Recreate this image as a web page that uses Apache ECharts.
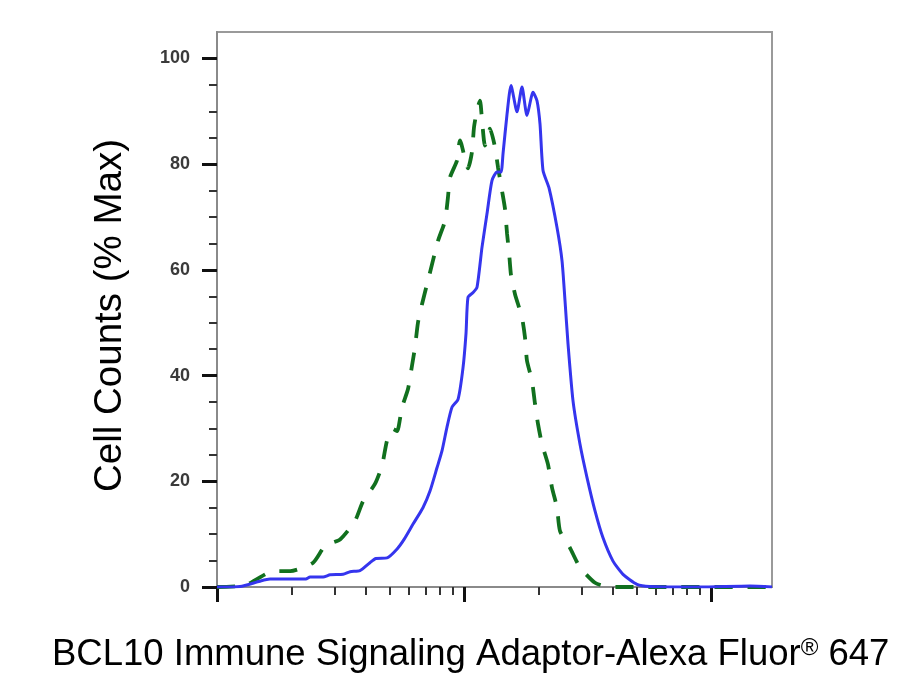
<!DOCTYPE html>
<html>
<head>
<meta charset="utf-8">
<script src="https://cdn.jsdelivr.net/npm/echarts@6/dist/echarts.min.js"></script>
<style>
  html, body { margin: 0; padding: 0; background: #fff; }
  #chart { width: 910px; height: 687px; }
</style>
</head>
<body>
<div id="chart"></div>
<script>
// Blue (BCL10 stained) histogram: fluorescence intensity and % of max
const bcl10Intensity = [100,124,149,164,229,238,269,287,324,346,379,416,440,488,536,572,622,682,729,778,815,853,894,946,991,1019,1038,1088,1129,1183,1239,1298,1360,1412,1439,1494,1550,1639,1717,1799,1903,1975,2031,2089,2209,2380,2494,2564,2637,2763,2949,3148,3392,3654,4011,4403,5015,5662,9028,14390,17660];
const bcl10Percent   = [0,0.1,1.1,1.5,1.5,1.9,1.9,2.3,2.4,2.9,3.1,4.6,5.4,5.5,7.2,9.0,11.9,15.0,18.2,22.6,25.8,30.2,34,35.5,41.5,48,54.8,55.7,56.7,64.3,70.6,76.9,78.5,78.5,82,89.5,94.9,89.9,94.6,89.2,93.6,92,87.6,78.8,75.5,68,61.7,54.2,46,35.2,27,20.7,14.4,9.3,4.9,2.4,0.5,0.1,0,0.2,0];

// Green dashed (control) histogram
const controlIntensity = [100,130,145,169,198,245,274,315,362,390,436,466,488,516,536,561,593,616,633,651,676,715,785,838,861,878,937,963,1038,1077,1098,1129,1161,1183,1216,1274,1335,1373,1425,1466,1494,1522,1550,1609,1717,1766,1799,1885,1939,1994,2070,2188,2271,2380,2447,2686,2949,3392,3900,5160,17660];
const controlPercent   = [0,0.3,1.5,3.0,3.0,4.6,7.8,9.0,12.5,16.2,19.5,23.0,27.7,29.9,29.5,34,37.4,41.9,45.3,50,53.5,58,65.5,69.3,73.7,77.5,80.7,84.5,79.2,82.3,87,90.2,92,88.3,83.5,86.7,83.2,79.4,75,71.5,66.8,63.3,59,55.4,51,47.2,42.8,39,34.6,30.8,27,23.2,18.8,15,10.6,7.4,3.7,0.8,0,0,0];

// Axis ticks
const xMajorTicks = [100, 1000, 10000];
const xMinorTicks = [200,300,400,500,600,700,800,900,2000,3000,4000,5000,6000,7000,8000,9000];
const yMajorTicks = [0, 20, 40, 60, 80, 100];
const yMinorTicks = [5,10,15,25,30,35,45,50,55,65,70,75,85,90,95];

const xTitle = 'BCL10 Immune Signaling Adaptor-Alexa Fluor{r|®} 647';
const yTitle = 'Cell Counts (% Max)';

const FONT = '"Liberation Sans", Arial, Helvetica, sans-serif';

const zip = (xs, ys) => xs.map((x, i) => [x, ys[i]]);

const chart = echarts.init(document.getElementById('chart'), null, { renderer: 'canvas' });
chart.setOption({
  animation: false,
  backgroundColor: '#ffffff',
  title: [{
    text: xTitle,
    left: 52,
    top: 636,
    padding: 0,
    textStyle: {
      fontFamily: FONT, fontSize: 36.5, fontWeight: 'normal', color: '#000',
      rich: { r: { fontFamily: FONT, fontSize: 24, verticalAlign: 'top', color: '#000' } }
    }
  }],
  grid: { left: 217, right: 138, top: 32, bottom: 100, show: true, borderColor: '#9a9a9a', borderWidth: 2, containLabel: false },
  xAxis: [{
    type: 'log', logBase: 10, min: 100, max: 17660, position: 'bottom',
    axisLine: { show: true, lineStyle: { color: '#8a8a8a', width: 2 } },
    axisTick: { show: true, inside: false, length: 15, customValues: xMajorTicks, lineStyle: { color: '#111', width: 3 } },
    axisLabel: { show: false },
    splitLine: { show: false }, minorTick: { show: false }
  }, {
    type: 'log', logBase: 10, min: 100, max: 17660, position: 'bottom',
    axisLine: { show: false },
    axisTick: { show: true, inside: false, length: 8, customValues: xMinorTicks, lineStyle: { color: '#333', width: 2 } },
    axisLabel: { show: false },
    splitLine: { show: false }
  }],
  yAxis: [{
    type: 'value', min: 0, max: 105, position: 'left',
    name: yTitle, nameLocation: 'middle', nameRotate: 90, nameGap: 87,
    nameTextStyle: { fontFamily: FONT, fontSize: 38.5, color: '#000', padding: [0, 12, 0, 0] },
    axisLine: { show: true, lineStyle: { color: '#8a8a8a', width: 2 } },
    axisTick: { show: true, inside: false, length: 15, customValues: yMajorTicks, lineStyle: { color: '#111', width: 3 } },
    axisLabel: { customValues: yMajorTicks, fontFamily: FONT, fontSize: 18, fontWeight: 'bold', color: '#3a3a3a', margin: 27 },
    splitLine: { show: false }
  }, {
    type: 'value', min: 0, max: 105, position: 'left',
    axisLine: { show: false },
    axisTick: { show: true, inside: false, length: 8, customValues: yMinorTicks, lineStyle: { color: '#333', width: 2 } },
    axisLabel: { show: false },
    splitLine: { show: false }
  }],
  series: [{
    name: 'Control', type: 'line', xAxisIndex: 0, yAxisIndex: 0,
    data: zip(controlIntensity, controlPercent),
    showSymbol: false, smooth: 0.2, z: 2,
    lineStyle: { color: '#11701e', width: 3.8, type: [18, 15] }
  }, {
    name: 'BCL10', type: 'line', xAxisIndex: 0, yAxisIndex: 0,
    data: zip(bcl10Intensity, bcl10Percent),
    showSymbol: false, smooth: 0.2, z: 3,
    lineStyle: { color: '#3535ee', width: 3 }
  }]
});
</script>
</body>
</html>
